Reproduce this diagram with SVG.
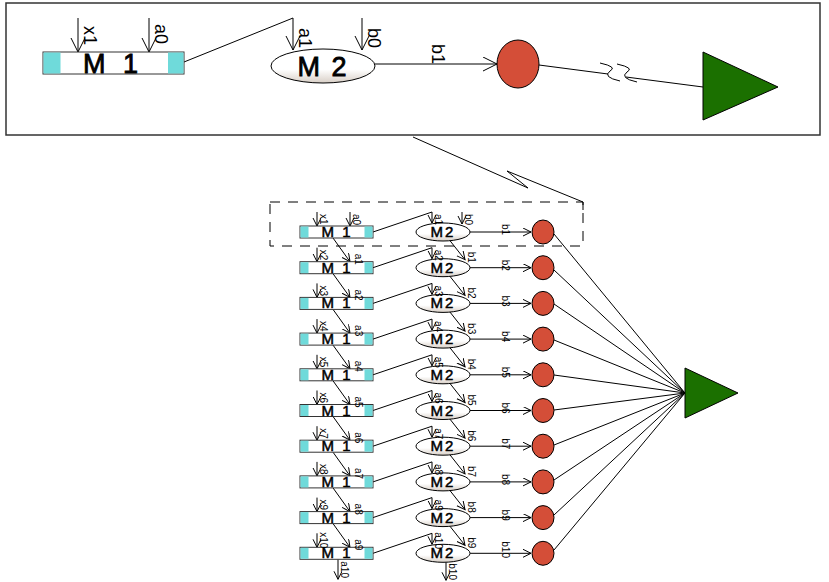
<svg xmlns="http://www.w3.org/2000/svg" width="829" height="582" viewBox="0 0 829 582">
<style>
.ln{stroke:#000;stroke-width:1;fill:none}
.ar{stroke:#000;stroke-width:1;fill:none;marker-end:url(#v)}
.m1{fill:#fff;stroke:#333;stroke-width:1}
.cy{fill:#6fdada}
.red{fill:#d44e38;stroke:#000;stroke-width:1}
.tri{fill:#1b7000;stroke:#000;stroke-width:1}
.bt{font-family:"Liberation Sans",Arial,sans-serif;text-anchor:middle;stroke:#000;stroke-width:0.8}
.bs{font-size:15px;letter-spacing:2px;stroke-width:0.5}
.lb{font-family:"Liberation Sans",Arial,sans-serif;font-size:10px}
.lbB{font-family:"Liberation Sans",Arial,sans-serif;font-size:18px}
</style>
<defs>
<marker id="v" markerWidth="10" markerHeight="10" refX="8" refY="4" orient="auto" markerUnits="userSpaceOnUse"><path d="M0,0 L8,4 L0,8" fill="none" stroke="#000"/></marker>
<marker id="vb" markerWidth="16" markerHeight="16" refX="14" refY="7" orient="auto" markerUnits="userSpaceOnUse"><path d="M0,0 L14,7 L0,14" fill="none" stroke="#000"/></marker>
<linearGradient id="m2g" x1="0" y1="0" x2="0" y2="1"><stop offset="0.6" stop-color="#fff"/><stop offset="1" stop-color="#d8cfc6"/></linearGradient>
</defs>
<rect x="0" y="0" width="829" height="582" fill="#fff"/>
<rect x="6" y="3" width="814" height="132" fill="#fff" stroke="#333" stroke-width="1.5"/>

<g id="connectors">
<line class="ln" x1="78" y1="18" x2="78" y2="52" marker-end="url(#vb)"/>
<line class="ln" x1="149" y1="18" x2="149" y2="52" marker-end="url(#vb)"/>
<polyline class="ln" points="184,62 293,18 293,50" marker-end="url(#vb)"/>
<line class="ln" x1="362" y1="18" x2="362" y2="50" marker-end="url(#vb)"/>
<line class="ln" x1="375" y1="64" x2="497" y2="64" marker-end="url(#vb)"/>
<polyline class="ln" points="539,65 608,74"/>
<path class="ln" d="M600,63 q18,4 10,8 q-8,6 10,10 M617,64 q18,4 10,8 q-8,6 10,10"/>
<polyline class="ln" points="626,77 703,87"/>
<polyline class="ln" points="413,137 528,188 507,171 583,202 583,210"/>
<rect x="270" y="202" width="313" height="44" fill="none" stroke="#000" stroke-dasharray="10,8"/>
<g class="ln">
<line x1="554" y1="234" x2="685" y2="393"/>
<line x1="554" y1="270" x2="685" y2="393"/>
<line x1="554" y1="304" x2="685" y2="393"/>
<line x1="554" y1="340" x2="685" y2="393"/>
<line x1="554" y1="375" x2="685" y2="393"/>
<line x1="554" y1="410" x2="685" y2="393"/>
<line x1="554" y1="445" x2="685" y2="393"/>
<line x1="554" y1="480" x2="685" y2="393"/>
<line x1="554" y1="515" x2="685" y2="393"/>
<line x1="554" y1="550" x2="685" y2="393"/>
</g>
<g transform="translate(0,232)">
<line class="ar" x1="317" y1="-20" x2="317" y2="-6"/>
<line class="ar" x1="350" y1="-20" x2="350" y2="-6"/>
<polyline class="ar" points="373,0 432,-20 432,-9"/>
<line class="ar" x1="462" y1="-20" x2="462" y2="-8"/>
<line class="ar" x1="470" y1="0" x2="531" y2="0"/>
</g>
<g id="rowconn">
<g transform="translate(0,267.7)"><line class="ar" x1="317" y1="-20" x2="317" y2="-6"/><line class="ar" x1="333" y1="-29.7" x2="350" y2="-6"/><polyline class="ar" points="373,0 432,-20 432,-9"/><line class="ar" x1="450" y1="-27" x2="465" y2="-8"/><line class="ar" x1="470" y1="0" x2="531" y2="0"/></g>
<g transform="translate(0,303.4)"><line class="ar" x1="317" y1="-20" x2="317" y2="-6"/><line class="ar" x1="333" y1="-29.7" x2="350" y2="-6"/><polyline class="ar" points="373,0 432,-20 432,-9"/><line class="ar" x1="450" y1="-27" x2="465" y2="-8"/><line class="ar" x1="470" y1="0" x2="531" y2="0"/></g>
<g transform="translate(0,339.1)"><line class="ar" x1="317" y1="-20" x2="317" y2="-6"/><line class="ar" x1="333" y1="-29.7" x2="350" y2="-6"/><polyline class="ar" points="373,0 432,-20 432,-9"/><line class="ar" x1="450" y1="-27" x2="465" y2="-8"/><line class="ar" x1="470" y1="0" x2="531" y2="0"/></g>
<g transform="translate(0,374.8)"><line class="ar" x1="317" y1="-20" x2="317" y2="-6"/><line class="ar" x1="333" y1="-29.7" x2="350" y2="-6"/><polyline class="ar" points="373,0 432,-20 432,-9"/><line class="ar" x1="450" y1="-27" x2="465" y2="-8"/><line class="ar" x1="470" y1="0" x2="531" y2="0"/></g>
<g transform="translate(0,410.5)"><line class="ar" x1="317" y1="-20" x2="317" y2="-6"/><line class="ar" x1="333" y1="-29.7" x2="350" y2="-6"/><polyline class="ar" points="373,0 432,-20 432,-9"/><line class="ar" x1="450" y1="-27" x2="465" y2="-8"/><line class="ar" x1="470" y1="0" x2="531" y2="0"/></g>
<g transform="translate(0,446.2)"><line class="ar" x1="317" y1="-20" x2="317" y2="-6"/><line class="ar" x1="333" y1="-29.7" x2="350" y2="-6"/><polyline class="ar" points="373,0 432,-20 432,-9"/><line class="ar" x1="450" y1="-27" x2="465" y2="-8"/><line class="ar" x1="470" y1="0" x2="531" y2="0"/></g>
<g transform="translate(0,481.9)"><line class="ar" x1="317" y1="-20" x2="317" y2="-6"/><line class="ar" x1="333" y1="-29.7" x2="350" y2="-6"/><polyline class="ar" points="373,0 432,-20 432,-9"/><line class="ar" x1="450" y1="-27" x2="465" y2="-8"/><line class="ar" x1="470" y1="0" x2="531" y2="0"/></g>
<g transform="translate(0,517.6)"><line class="ar" x1="317" y1="-20" x2="317" y2="-6"/><line class="ar" x1="333" y1="-29.7" x2="350" y2="-6"/><polyline class="ar" points="373,0 432,-20 432,-9"/><line class="ar" x1="450" y1="-27" x2="465" y2="-8"/><line class="ar" x1="470" y1="0" x2="531" y2="0"/></g>
<g transform="translate(0,553.3)"><line class="ar" x1="317" y1="-20" x2="317" y2="-6"/><line class="ar" x1="333" y1="-29.7" x2="350" y2="-6"/><polyline class="ar" points="373,0 432,-20 432,-9"/><line class="ar" x1="450" y1="-27" x2="465" y2="-8"/><line class="ar" x1="470" y1="0" x2="531" y2="0"/>
<line class="ar" x1="338" y1="6" x2="338" y2="26"/><line class="ar" x1="446" y1="9" x2="446" y2="27"/></g>
</g>
</g>

<g id="top-m1">
<rect class="m1" x="43" y="52" width="141" height="22"/>
<rect class="cy" x="43.5" y="52.5" width="17" height="21"/>
<rect class="cy" x="168" y="52.5" width="15.5" height="21"/>
<text class="bt" x="113" y="73" font-size="27" letter-spacing="5">M 1</text>
</g>
<g id="top-m2">
<ellipse cx="323" cy="66" rx="52" ry="17" fill="url(#m2g)" stroke="#000"/>
<text class="bt" x="323" y="76" font-size="27" letter-spacing="2">M 2</text>
</g>
<g id="top-circle"><ellipse class="red" cx="518" cy="64" rx="21" ry="24"/></g>
<g id="top-triangle"><polygon class="tri" points="703,52 703,120 778,87"/></g>
<g id="top-labels" class="lbB">
<text transform="translate(84,26) rotate(90)">x1</text>
<text transform="translate(155,24) rotate(90)">a0</text>
<text transform="translate(299,28) rotate(90)">a1</text>
<text transform="translate(368,28) rotate(90)">b0</text>
<text transform="translate(432,44) rotate(90)">b1</text>
</g>

<g id="big-triangle"><polygon class="tri" points="685,368 685,418 738,393"/></g>

<g id="row1" transform="translate(0,232)"><g id="m1-1"><rect class="m1" x="300" y="-6" width="73" height="12"/><rect class="cy" x="300.5" y="-5.5" width="8" height="11"/><rect class="cy" x="364.5" y="-5.5" width="8" height="11"/><text class="bt bs" x="337" y="5">M 1</text></g><g id="m2-1"><ellipse cx="443" cy="0" rx="27" ry="9" fill="url(#m2g)" stroke="#000"/><text class="bt bs" x="443" y="5">M2</text></g><ellipse id="c-1" class="red" cx="543" cy="0" rx="11" ry="12"/><g class="lb"><text transform="translate(320,-18) rotate(90)">x1</text><text transform="translate(353,-18) rotate(90)">a0</text><text transform="translate(435,-18) rotate(90)">a1</text><text transform="translate(465,-18) rotate(90)">b0</text><text transform="translate(502,-8) rotate(90)">b1</text></g></g>
<g id="row2" transform="translate(0,267.7)"><g id="m1-2"><rect class="m1" x="300" y="-6" width="73" height="12"/><rect class="cy" x="300.5" y="-5.5" width="8" height="11"/><rect class="cy" x="364.5" y="-5.5" width="8" height="11"/><text class="bt bs" x="337" y="5">M 1</text></g><g id="m2-2"><ellipse cx="443" cy="0" rx="27" ry="9" fill="url(#m2g)" stroke="#000"/><text class="bt bs" x="443" y="5">M2</text></g><ellipse id="c-2" class="red" cx="543" cy="0" rx="11" ry="12"/><g class="lb"><text transform="translate(320,-18) rotate(90)">x2</text><text transform="translate(355,-14) rotate(90)">a1</text><text transform="translate(435,-18) rotate(90)">a2</text><text transform="translate(468,-16) rotate(90)">b1</text><text transform="translate(502,-8) rotate(90)">b2</text></g></g>
<g id="row3" transform="translate(0,303.4)"><g id="m1-3"><rect class="m1" x="300" y="-6" width="73" height="12"/><rect class="cy" x="300.5" y="-5.5" width="8" height="11"/><rect class="cy" x="364.5" y="-5.5" width="8" height="11"/><text class="bt bs" x="337" y="5">M 1</text></g><g id="m2-3"><ellipse cx="443" cy="0" rx="27" ry="9" fill="url(#m2g)" stroke="#000"/><text class="bt bs" x="443" y="5">M2</text></g><ellipse id="c-3" class="red" cx="543" cy="0" rx="11" ry="12"/><g class="lb"><text transform="translate(320,-18) rotate(90)">x3</text><text transform="translate(355,-14) rotate(90)">a2</text><text transform="translate(435,-18) rotate(90)">a3</text><text transform="translate(468,-16) rotate(90)">b2</text><text transform="translate(502,-8) rotate(90)">b3</text></g></g>
<g id="row4" transform="translate(0,339.1)"><g id="m1-4"><rect class="m1" x="300" y="-6" width="73" height="12"/><rect class="cy" x="300.5" y="-5.5" width="8" height="11"/><rect class="cy" x="364.5" y="-5.5" width="8" height="11"/><text class="bt bs" x="337" y="5">M 1</text></g><g id="m2-4"><ellipse cx="443" cy="0" rx="27" ry="9" fill="url(#m2g)" stroke="#000"/><text class="bt bs" x="443" y="5">M2</text></g><ellipse id="c-4" class="red" cx="543" cy="0" rx="11" ry="12"/><g class="lb"><text transform="translate(320,-18) rotate(90)">x4</text><text transform="translate(355,-14) rotate(90)">a3</text><text transform="translate(435,-18) rotate(90)">a4</text><text transform="translate(468,-16) rotate(90)">b3</text><text transform="translate(502,-8) rotate(90)">b4</text></g></g>
<g id="row5" transform="translate(0,374.8)"><g id="m1-5"><rect class="m1" x="300" y="-6" width="73" height="12"/><rect class="cy" x="300.5" y="-5.5" width="8" height="11"/><rect class="cy" x="364.5" y="-5.5" width="8" height="11"/><text class="bt bs" x="337" y="5">M 1</text></g><g id="m2-5"><ellipse cx="443" cy="0" rx="27" ry="9" fill="url(#m2g)" stroke="#000"/><text class="bt bs" x="443" y="5">M2</text></g><ellipse id="c-5" class="red" cx="543" cy="0" rx="11" ry="12"/><g class="lb"><text transform="translate(320,-18) rotate(90)">x5</text><text transform="translate(355,-14) rotate(90)">a4</text><text transform="translate(435,-18) rotate(90)">a5</text><text transform="translate(468,-16) rotate(90)">b4</text><text transform="translate(502,-8) rotate(90)">b5</text></g></g>
<g id="row6" transform="translate(0,410.5)"><g id="m1-6"><rect class="m1" x="300" y="-6" width="73" height="12"/><rect class="cy" x="300.5" y="-5.5" width="8" height="11"/><rect class="cy" x="364.5" y="-5.5" width="8" height="11"/><text class="bt bs" x="337" y="5">M 1</text></g><g id="m2-6"><ellipse cx="443" cy="0" rx="27" ry="9" fill="url(#m2g)" stroke="#000"/><text class="bt bs" x="443" y="5">M2</text></g><ellipse id="c-6" class="red" cx="543" cy="0" rx="11" ry="12"/><g class="lb"><text transform="translate(320,-18) rotate(90)">x6</text><text transform="translate(355,-14) rotate(90)">a5</text><text transform="translate(435,-18) rotate(90)">a6</text><text transform="translate(468,-16) rotate(90)">b5</text><text transform="translate(502,-8) rotate(90)">b6</text></g></g>
<g id="row7" transform="translate(0,446.2)"><g id="m1-7"><rect class="m1" x="300" y="-6" width="73" height="12"/><rect class="cy" x="300.5" y="-5.5" width="8" height="11"/><rect class="cy" x="364.5" y="-5.5" width="8" height="11"/><text class="bt bs" x="337" y="5">M 1</text></g><g id="m2-7"><ellipse cx="443" cy="0" rx="27" ry="9" fill="url(#m2g)" stroke="#000"/><text class="bt bs" x="443" y="5">M2</text></g><ellipse id="c-7" class="red" cx="543" cy="0" rx="11" ry="12"/><g class="lb"><text transform="translate(320,-18) rotate(90)">x7</text><text transform="translate(355,-14) rotate(90)">a6</text><text transform="translate(435,-18) rotate(90)">a7</text><text transform="translate(468,-16) rotate(90)">b6</text><text transform="translate(502,-8) rotate(90)">b7</text></g></g>
<g id="row8" transform="translate(0,481.9)"><g id="m1-8"><rect class="m1" x="300" y="-6" width="73" height="12"/><rect class="cy" x="300.5" y="-5.5" width="8" height="11"/><rect class="cy" x="364.5" y="-5.5" width="8" height="11"/><text class="bt bs" x="337" y="5">M 1</text></g><g id="m2-8"><ellipse cx="443" cy="0" rx="27" ry="9" fill="url(#m2g)" stroke="#000"/><text class="bt bs" x="443" y="5">M2</text></g><ellipse id="c-8" class="red" cx="543" cy="0" rx="11" ry="12"/><g class="lb"><text transform="translate(320,-18) rotate(90)">x8</text><text transform="translate(355,-14) rotate(90)">a7</text><text transform="translate(435,-18) rotate(90)">a8</text><text transform="translate(468,-16) rotate(90)">b7</text><text transform="translate(502,-8) rotate(90)">b8</text></g></g>
<g id="row9" transform="translate(0,517.6)"><g id="m1-9"><rect class="m1" x="300" y="-6" width="73" height="12"/><rect class="cy" x="300.5" y="-5.5" width="8" height="11"/><rect class="cy" x="364.5" y="-5.5" width="8" height="11"/><text class="bt bs" x="337" y="5">M 1</text></g><g id="m2-9"><ellipse cx="443" cy="0" rx="27" ry="9" fill="url(#m2g)" stroke="#000"/><text class="bt bs" x="443" y="5">M2</text></g><ellipse id="c-9" class="red" cx="543" cy="0" rx="11" ry="12"/><g class="lb"><text transform="translate(320,-18) rotate(90)">x9</text><text transform="translate(355,-14) rotate(90)">a8</text><text transform="translate(435,-18) rotate(90)">a9</text><text transform="translate(468,-16) rotate(90)">b8</text><text transform="translate(502,-8) rotate(90)">b9</text></g></g>
<g id="row10" transform="translate(0,553.3)"><g id="m1-10"><rect class="m1" x="300" y="-6" width="73" height="12"/><rect class="cy" x="300.5" y="-5.5" width="8" height="11"/><rect class="cy" x="364.5" y="-5.5" width="8" height="11"/><text class="bt bs" x="337" y="5">M 1</text></g><g id="m2-10"><ellipse cx="443" cy="0" rx="27" ry="9" fill="url(#m2g)" stroke="#000"/><text class="bt bs" x="443" y="5">M2</text></g><ellipse id="c-10" class="red" cx="543" cy="0" rx="11" ry="12"/><g class="lb"><text transform="translate(320,-21) rotate(90)">x10</text><text transform="translate(355,-14) rotate(90)">a9</text><text transform="translate(435,-21) rotate(90)">a10</text><text transform="translate(468,-16) rotate(90)">b9</text><text transform="translate(502,-12) rotate(90)">b10</text><text transform="translate(341,8) rotate(90)">a10</text><text transform="translate(449,10) rotate(90)">b10</text></g></g>
</svg>
